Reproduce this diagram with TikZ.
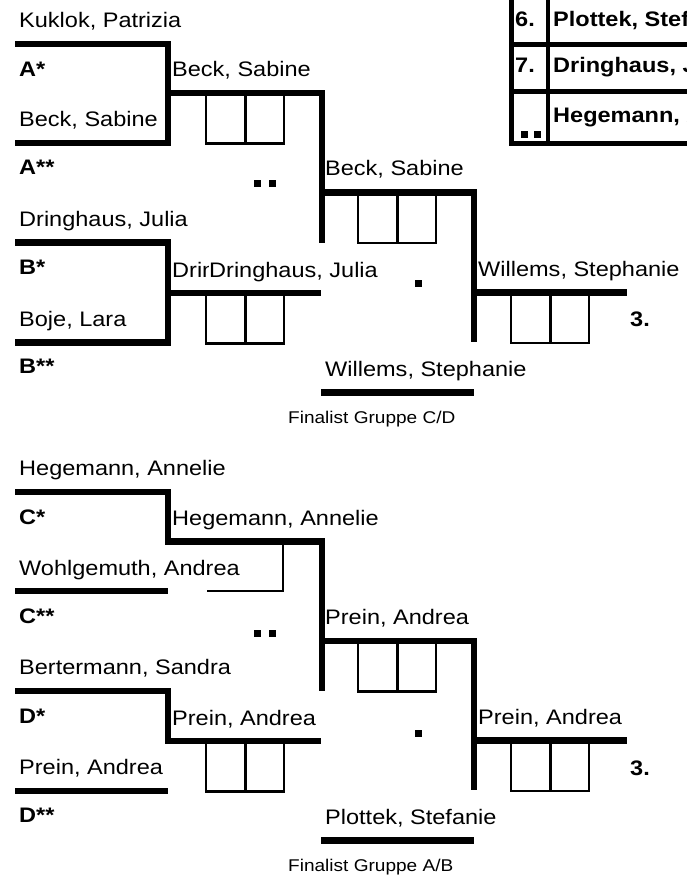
\documentclass[tikz,border=0pt]{standalone}
\usepackage{fontspec}
\setmainfont{Liberation Sans}[FakeStretch=1.12]
\usetikzlibrary{positioning}

\begin{document}
\begin{tikzpicture}[x=1pt,y=-1pt,
     player/.style={anchor=base west, inner sep=0pt, font=\fontsize{21}{25}\selectfont},
     seedlbl/.style={player, font=\fontsize{21}{25}\selectfont\bfseries},
     groupnote/.style={anchor=base west, inner sep=0pt, font=\fontsize{17}{20}\selectfont},
     bracket/.style={line width=6.5pt},
     tabline/.style={line width=4.5pt},
     score/.style={line width=2.5pt},
     blob/.style={fill=black, draw=none, minimum size=7pt, inner sep=0pt}]

  \useasboundingbox (0,0) rectangle (687,877);
  \clip (0,0) rectangle (687,877);

  % score boxes
  \foreach \bx/\by in {206/93, 206/293, 358/192.5, 511/292.5, 206/741, 358/641, 511/740.5} {
    \draw[score] (\bx,\by) rectangle ++(78,50.5);
    \draw[score] (\bx+39.5,\by) -- ++(0,50.5);
  }
  % half box under Wohlgemuth
  \coordinate (hs0) at (207,591);
  \coordinate (hs1) at (283,591);
  \coordinate (hs2) at (283,545);
  \draw[score] (hs0) -- (hs1) -- (hs2);

  % bracket points, upper half
  \coordinate (a0) at (15,44);   \coordinate (a1) at (168,44);
  \coordinate (a2) at (168,143); \coordinate (a3) at (15,143);
  \coordinate (am) at (168,93);  \coordinate (ar) at (322,93);
  \coordinate (ad) at (322,243);
  \coordinate (b0) at (15,242.5);  \coordinate (b1) at (168,242.5);
  \coordinate (b2) at (168,342.5); \coordinate (b3) at (15,342.5);
  \coordinate (bm) at (168,293);   \coordinate (br) at (321,293);
  \coordinate (ab0) at (322,192.5); \coordinate (ab1) at (474,192.5);
  \coordinate (ab2) at (474,342);
  \coordinate (f0) at (474,292.5); \coordinate (f1) at (627,292.5);
  \coordinate (w0) at (321,392.5); \coordinate (w1) at (474,392.5);

  % bracket points, lower half
  \coordinate (c0) at (15,492);    \coordinate (c1) at (168,492);
  \coordinate (c2) at (168,541.5); \coordinate (cr) at (322,541.5);
  \coordinate (cd) at (322,691);
  \coordinate (c3) at (15,591);    \coordinate (c4) at (168,591);
  \coordinate (d0) at (15,691);    \coordinate (d1) at (168,691);
  \coordinate (d2) at (168,741);   \coordinate (dr) at (321,741);
  \coordinate (d3) at (15,791);    \coordinate (d4) at (168,791);
  \coordinate (cd0) at (322,641);  \coordinate (cd1) at (474,641);
  \coordinate (cd2) at (474,790);
  \coordinate (g0) at (474,740.5); \coordinate (g1) at (627,740.5);
  \coordinate (p0) at (321,840.5); \coordinate (p1) at (474,840.5);

  \draw[bracket] (a0) -- (a1) -- (a2) -- (a3);
  \draw[bracket] (am) -- (ar) -- (ad);
  \draw[bracket] (b0) -- (b1) -- (b2) -- (b3);
  \draw[bracket] (bm) -- (br);
  \draw[bracket] (ab0) -- (ab1) -- (ab2);
  \draw[bracket] (f0) -- (f1);
  \draw[bracket] (w0) -- (w1);

  \draw[bracket] (c0) -- (c1) -- (c2) -- (cr) -- (cd);
  \draw[bracket] (c3) -- (c4);
  \draw[bracket] (d0) -- (d1) -- (d2) -- (dr);
  \draw[bracket] (d3) -- (d4);
  \draw[bracket] (cd0) -- (cd1) -- (cd2);
  \draw[bracket] (g0) -- (g1);
  \draw[bracket] (p0) -- (p1);

  % ranking table, top right
  \coordinate (t0) at (511.5,-5);  \coordinate (t1) at (511.5,143.3);
  \coordinate (t2) at (692,143.3);
  \coordinate (t3) at (548,-5);    \coordinate (t4) at (548,143.3);
  \coordinate (t5) at (511.5,44.7); \coordinate (t6) at (692,44.7);
  \coordinate (t7) at (511.5,91.7); \coordinate (t8) at (692,91.7);
  \draw[tabline] (t0) -- (t1) -- (t2);
  \draw[tabline] (t3) -- (t4);
  \draw[tabline] (t5) -- (t6);
  \draw[tabline] (t7) -- (t8);

  \node[seedlbl] (six) at (515,26.5) {6.};
  \node[seedlbl] (sixname) at (553,26.5) {Plottek, Stefanie};
  \node[seedlbl] (seven) at (515,73) {7.};
  \node[seedlbl] (sevenname) at (553,73) {Dringhaus, Julia};
  \node[seedlbl] (eightname) at (553,123) {Hegemann, Annelie};
  \node[blob] (tdot1) at (524.5,135) {};
  \node[blob] (tdot2) at (537,135) {};

  % groups A and B
  \node[player] (kuklok) at (19,27.5) {Kuklok, Patrizia};
  \node[seedlbl] (astar) at (19,77) {A*};
  \node[player] (becka) at (19,126.5) {Beck, Sabine};
  \node[seedlbl] (astarr) at (19,175) {A**};
  \node[player] (dringb) at (19,226) {Dringhaus, Julia};
  \node[seedlbl] (bstar) at (19,274) {B*};
  \node[player] (boje) at (19,326) {Boje, Lara};
  \node[seedlbl] (bstarr) at (19,373) {B**};

  \node[player] (wina) at (172,77) {Beck, Sabine};
  \node[player] (winbold) at (172,277) {Dringhaus, Julia};
  \node[player, fill=white, inner ysep=3pt] (winb) at (209,277) {Dringhaus, Julia};
  \node[player] (winab) at (325,176) {Beck, Sabine};
  \node[player] (thirdab) at (478,276) {Willems, Stephanie};
  \node[seedlbl] (rankab) at (630,326.5) {3.};
  \node[player] (finab) at (325,376) {Willems, Stephanie};
  \node[groupnote] (notecd) at (288,423) {Finalist Gruppe C/D};

  \node[blob] (adot1) at (257,184) {};
  \node[blob] (adot2) at (272,184) {};
  \node[blob] (bdot) at (418,283.5) {};

  % groups C and D
  \node[player] (hegemann) at (19,475.5) {Hegemann, Annelie};
  \node[seedlbl] (cstar) at (19,524) {C*};
  \node[player] (wohlg) at (19,575) {Wohlgemuth, Andrea};
  \node[seedlbl] (cstarr) at (19,623) {C**};
  \node[player] (berterm) at (19,674) {Bertermann, Sandra};
  \node[seedlbl] (dstar) at (19,723) {D*};
  \node[player] (preind) at (19,774) {Prein, Andrea};
  \node[seedlbl] (dstarr) at (19,822) {D**};

  \node[player] (winc) at (172,525) {Hegemann, Annelie};
  \node[player] (wind) at (172,725) {Prein, Andrea};
  \node[player] (wincd) at (325,624.5) {Prein, Andrea};
  \node[player] (thirdcd) at (478,724.5) {Prein, Andrea};
  \node[seedlbl] (rankcd) at (630,775) {3.};
  \node[player] (fincd) at (325,824) {Plottek, Stefanie};
  \node[groupnote] (noteab) at (288,871) {Finalist Gruppe A/B};

  \node[blob] (cdot1) at (257,633) {};
  \node[blob] (cdot2) at (272,633) {};
  \node[blob] (ddot) at (418,733) {};
\end{tikzpicture}
\end{document}
